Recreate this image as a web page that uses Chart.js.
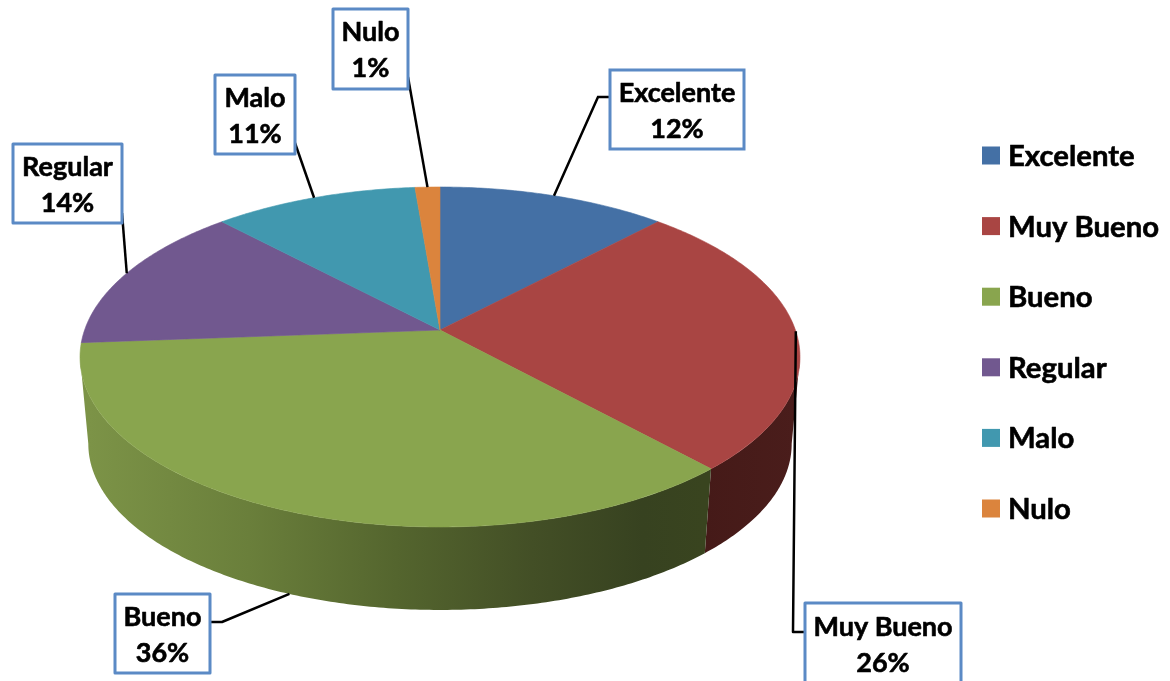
<!DOCTYPE html>
<html><head><meta charset="utf-8">
<style>html,body{margin:0;padding:0;background:#fff;overflow:hidden}canvas{display:block}</style>
<script src="https://cdn.jsdelivr.net/npm/chart.js@4/dist/chart.umd.min.js"></script>
</head><body><canvas id="c" width="1170" height="681"></canvas>
<script>
const categories = ['Excelente','Muy Bueno','Bueno','Regular','Malo','Nulo'];
const values = [12, 26.25, 35.55, 14.2, 10.7, 1.3];
const colors = ['#4470A5','#A94543','#89A54E','#71588F','#4198AF','#DB843D'];

// label boxes: x, y, w, h, and the elbow of the leader line
const boxes = [
  {x:610,y:70,w:134,h:79, from:[610,97], elbow:[598,97]},
  {x:805,y:603,w:156,h:81, from:[805,632], elbow:[793,632]},
  {x:115,y:594,w:95,h:79, from:[210,622], elbow:[222,622], lower:true},
  {x:13,y:144,w:109,h:79, from:[122,213], elbow:null},
  {x:215,y:75,w:80,h:79, from:[295,143], elbow:null},
  {x:333,y:9,w:75,h:80, from:[408,77], elbow:null}
];

// perspective of the tilted disc
const CX=440, TOPY=330, BOTY=417.5, B=355.4, A=165.7, K=0.1588, SHRINK=0.977;
function project(theta, lower){
  const u=Math.sin(theta), v=Math.cos(theta), w=1+K*v, s=lower?SHRINK:1;
  return [CX+s*B*u/w, (lower?BOTY:TOPY)-s*A*v/w];
}
const toTheta=a=>a+Math.PI/2;
const T_R=Math.acos(-K), T_L=2*Math.PI-T_R;

function wallGradient(ctx,i){
  if(i===2){
    const g=ctx.createLinearGradient(89,0,704,0);
    g.addColorStop(0,'#7C9347');g.addColorStop(0.26,'#6A7F3B');g.addColorStop(0.5,'#54652E');
    g.addColorStop(0.72,'#434F26');g.addColorStop(0.9,'#374220');g.addColorStop(1,'#39441F');
    return g;
  }
  if(i===1){
    const g=ctx.createLinearGradient(704,0,795,0);
    g.addColorStop(0,'#451A18');g.addColorStop(1,'#4A1D1B');
    return g;
  }
  return '#333';
}
function heavyText(ctx,s,x,y){
  ctx.lineWidth=0.6;ctx.strokeStyle='#000';ctx.lineJoin='round';
  ctx.strokeText(s,x,y);ctx.fillText(s,x,y);
}

const disc3d={
  id:'disc3d',
  beforeDatasetDraw(chart,args){
    const ctx=chart.ctx, arcs=args.meta.data;
    ctx.save();
    arcs.forEach((arc,i)=>{
      const a=Math.max(toTheta(arc.startAngle),T_R), b=Math.min(toTheta(arc.endAngle),T_L);
      if(b<=a) return;
      const n=Math.ceil((b-a)*90);
      ctx.beginPath();
      for(let k=0;k<=n;k++){const p=project(a+(b-a)*k/n,false);k?ctx.lineTo(p[0],p[1]):ctx.moveTo(p[0],p[1]);}
      for(let k=n;k>=0;k--){const p=project(a+(b-a)*k/n,true);ctx.lineTo(p[0],p[1]);}
      ctx.closePath();
      ctx.fillStyle=wallGradient(ctx,i);ctx.fill();
    });
    arcs.forEach((arc,i)=>{
      const a=toTheta(arc.startAngle), b=toTheta(arc.endAngle);
      const n=Math.max(4,Math.ceil((b-a)*90));
      ctx.beginPath();ctx.moveTo(CX,TOPY);
      for(let k=0;k<=n;k++){const p=project(a+(b-a)*k/n,false);ctx.lineTo(p[0],p[1]);}
      ctx.closePath();
      ctx.fillStyle=colors[i];ctx.strokeStyle=colors[i];ctx.lineWidth=0.6;
      ctx.fill();ctx.stroke();
    });
    ctx.restore();
    return false;
  },
  afterDatasetsDraw(chart){
    const ctx=chart.ctx, arcs=chart.getDatasetMeta(0).data;
    const total=values.reduce((s,v)=>s+v,0);
    ctx.save();
    arcs.forEach((arc,i)=>{
      const bx=boxes[i];
      const mid=toTheta((arc.startAngle+arc.endAngle)/2);
      const end=project(mid,!!bx.lower);
      ctx.beginPath();ctx.moveTo(bx.from[0],bx.from[1]);
      if(bx.elbow)ctx.lineTo(bx.elbow[0],bx.elbow[1]);
      ctx.lineTo(end[0],end[1]);
      ctx.strokeStyle='#000';ctx.lineWidth=2.5;ctx.stroke();
      ctx.fillStyle='#fff';ctx.fillRect(bx.x,bx.y,bx.w,bx.h);
      ctx.strokeStyle='#5B8AC5';ctx.lineWidth=3;ctx.strokeRect(bx.x,bx.y,bx.w,bx.h);
      ctx.fillStyle='#000';ctx.font='bold 27px Lato';ctx.textAlign='center';ctx.textBaseline='middle';
      const cx=bx.x+bx.w/2, cy=bx.y+bx.h/2;
      heavyText(ctx,categories[i],cx,cy-16.5);
      heavyText(ctx,Math.round(values[i]/total*100)+'%',cx,cy+19.5);
    });
    categories.forEach((name,i)=>{
      const y=155.5+70.6*i;
      ctx.fillStyle=colors[i];ctx.fillRect(982,y-9,18,18);
      ctx.fillStyle='#000';ctx.font='bold 29.3px Lato';ctx.textAlign='left';ctx.textBaseline='middle';
      heavyText(ctx,name,1008,y+1);
    });
    ctx.restore();
  }
};

new Chart(document.getElementById('c'),{
  type:'pie',
  data:{labels:categories,datasets:[{data:values,backgroundColor:colors,borderWidth:0}]},
  options:{
    responsive:false,animation:false,
    plugins:{tooltip:{enabled:false},legend:{display:false}}
  },
  plugins:[disc3d]
});
</script></body></html>
